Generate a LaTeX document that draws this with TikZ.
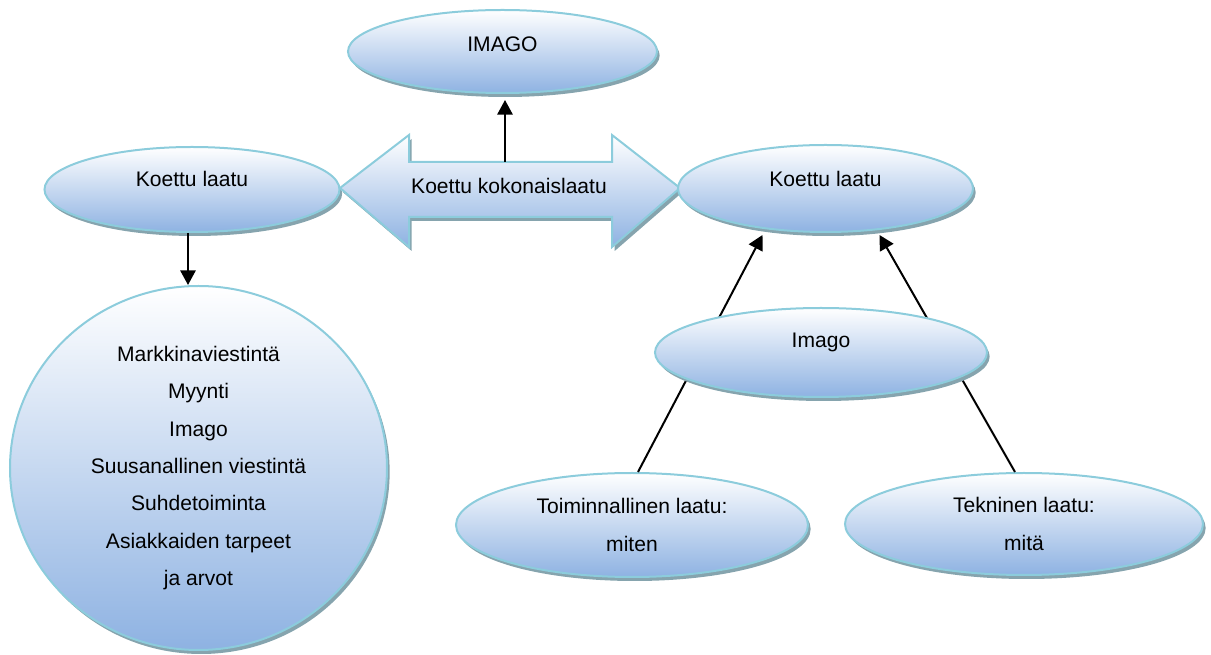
\documentclass[tikz,border=0pt]{standalone}
\usepackage{fontspec}
\setmainfont{Liberation Sans}
\usetikzlibrary{shapes.geometric,shadows,arrows.meta,calc}

\definecolor{rim}{RGB}{140,204,220}
\definecolor{shadowgray}{RGB}{134,164,174}
\definecolor{deepblue}{RGB}{142,178,226}

\newdimen\pxu \pxu=0.75pt
\newcommand\bubblefont{\fontsize{15.8pt}{28pt}\selectfont}

\begin{document}
\begin{tikzpicture}[x=0.75pt,y=-0.75pt,
  bubble/.style={ellipse, draw=rim, line width=1.5pt,
    top color=white, bottom color=deepblue,
    general shadow={fill=shadowgray, shadow xshift=2pt, shadow yshift=-3pt},
    inner sep=0pt, font=\bubblefont, align=center},
  arrowbody/.style={draw=rim, line width=1.5pt,
    top color=white, bottom color=deepblue,
    general shadow={fill=shadowgray, shadow xshift=2pt, shadow yshift=-3pt}},
  lbl/.style={font=\bubblefont, inner sep=0pt},
  conn/.style={draw=black, line width=1.5pt,
    -{Triangle[length=11pt,width=11.5pt]}}]

\useasboundingbox (0,0) rectangle (1211,655);

% top ellipse
\node[bubble, minimum width=309*\pxu, minimum height=83*\pxu] (imagotop) at (502.5,51.5) {};
\node[lbl] (imagotoptext) at ([yshift=5.6pt]imagotop.center) {IMAGO};

% left ellipse
\node[bubble, minimum width=295*\pxu, minimum height=85*\pxu] (kl) at (192,189.5) {};
\node[lbl] (kltext) at ([yshift=7.8pt]kl.center) {Koettu laatu};

% double arrow in the middle
\path[arrowbody] (340,188) -- (409,135) -- (409,162) -- (612,162) -- (612,135)
  -- (680,188) -- (612,247) -- (612,217) -- (409,217) -- (409,247) -- cycle;
\node[lbl] (total) at (509,186) {Koettu kokonaislaatu};
\coordinate (shafttop) at (505,162);

% right ellipse
\node[bubble, minimum width=295*\pxu, minimum height=87*\pxu] (kr) at (825.5,188.5) {};
\node[lbl] (krtext) at ([yshift=7.2pt]kr.center) {Koettu laatu};

% big circle with the list
\node[bubble, minimum width=377*\pxu, minimum height=364*\pxu] (circ) at (198.5,468)
  {Markkinaviestintä\\Myynti\\Imago\\Suusanallinen viestintä\\Suhdetoiminta\\Asiakkaiden tarpeet\\ja arvot};

% bottom ellipses
\node[bubble, minimum width=352*\pxu, minimum height=104*\pxu] (toim) at (632,525)
  {Toiminnallinen laatu:\\miten};
\node[bubble, minimum width=358*\pxu, minimum height=102*\pxu] (tek) at (1024,524)
  {Tekninen laatu:\\mitä};

% connectors
\draw[conn, shorten >=4.5pt] (shafttop) -- (shafttop |- imagotop.south);
\draw[conn] ([xshift=-3pt]kl.south) -- ([xshift=-3pt]kl.south |- circ.north);
\draw[conn] ($(toim.north)+(6,0)$) -- ($(kr.south)+(-63,2)$);
\draw[conn] ($(tek.north)+(-9,0)$) -- ($(kr.south)+(54,2)$);

% middle ellipse, drawn over the two long connectors
\node[bubble, minimum width=332*\pxu, minimum height=89*\pxu] (imago) at (821,352.5) {};
\node[lbl] (imagotext) at ([yshift=7.8pt]imago.center) {Imago};

\end{tikzpicture}
\end{document}
